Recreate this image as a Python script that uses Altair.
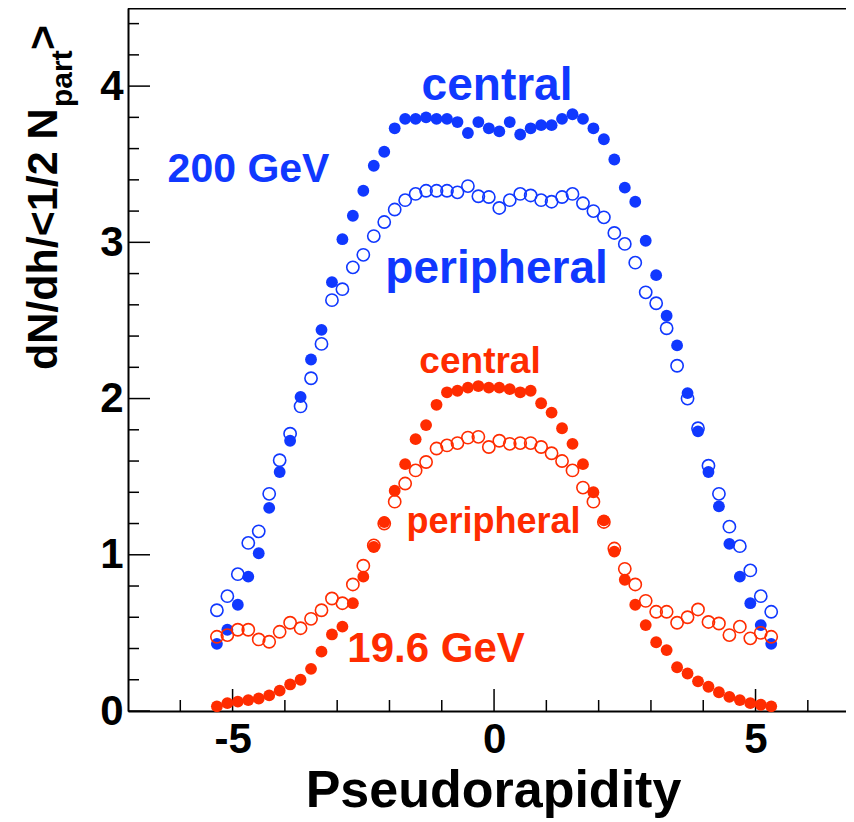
import altair as alt
import pandas as pd

# ---------------- data ----------------
eta = [-5.3, -5.1, -4.9, -4.7, -4.5, -4.3, -4.1, -3.9, -3.7, -3.5, -3.3, -3.1, -2.9, -2.7,
       -2.5, -2.3, -2.1, -1.9, -1.7, -1.5, -1.3, -1.1, -0.9, -0.7, -0.5, -0.3, -0.1,
       0.1, 0.3, 0.5, 0.7, 0.9, 1.1, 1.3, 1.5, 1.7, 1.9, 2.1, 2.3, 2.5, 2.7, 2.9, 3.1,
       3.3, 3.5, 3.7, 3.9, 4.1, 4.3, 4.5, 4.7, 4.9, 5.1, 5.3]

gev200_central = [0.43, 0.52, 0.68, 0.86, 1.01, 1.30, 1.53, 1.73, 2.01, 2.25, 2.44, 2.745, 3.02, 3.17,
                  3.33, 3.49, 3.58, 3.73, 3.79, 3.79, 3.80, 3.79, 3.79, 3.77, 3.70, 3.77, 3.73,
                  3.71, 3.77, 3.69, 3.73, 3.75, 3.75, 3.79, 3.82, 3.79, 3.73, 3.66, 3.53, 3.35, 3.26,
                  3.01, 2.79, 2.53, 2.34, 2.035, 1.79, 1.53, 1.31, 1.07, 0.86, 0.69, 0.55, 0.43]

gev200_peripheral = [0.645, 0.735, 0.876, 1.076, 1.15, 1.39, 1.605, 1.775, 1.95, 2.13, 2.35, 2.63, 2.70, 2.84,
                     2.92, 3.04, 3.13, 3.21, 3.27, 3.31, 3.33, 3.33, 3.33, 3.32, 3.36, 3.295, 3.29,
                     3.22, 3.27, 3.31, 3.30, 3.27, 3.26, 3.29, 3.31, 3.25, 3.20, 3.16, 3.06, 2.99, 2.87,
                     2.68, 2.61, 2.45, 2.21, 2.00, 1.81, 1.57, 1.39, 1.18, 1.055, 0.90, 0.735, 0.635]

gev19_central = [0.03, 0.05, 0.06, 0.07, 0.08, 0.10, 0.13, 0.17, 0.20, 0.27, 0.38, 0.49, 0.54, 0.69,
                 0.86, 1.05, 1.21, 1.41, 1.58, 1.74, 1.83, 1.96, 2.04, 2.05, 2.07, 2.08, 2.07,
                 2.07, 2.06, 2.04, 2.05, 1.97, 1.91, 1.81, 1.71, 1.58, 1.40, 1.22, 1.02, 0.84, 0.68,
                 0.55, 0.44, 0.39, 0.28, 0.24, 0.19, 0.155, 0.12, 0.09, 0.07, 0.05, 0.04, 0.03]

gev19_peripheral = [0.475, 0.486, 0.52, 0.52, 0.458, 0.443, 0.507, 0.565, 0.53, 0.59, 0.645, 0.72, 0.69, 0.81,
                    0.93, 1.06, 1.20, 1.34, 1.456, 1.54, 1.594, 1.68, 1.70, 1.715, 1.75, 1.755, 1.69,
                    1.73, 1.71, 1.715, 1.715, 1.69, 1.65, 1.60, 1.54, 1.43, 1.34, 1.21, 1.04, 0.91, 0.81,
                    0.705, 0.635, 0.635, 0.565, 0.60, 0.65, 0.57, 0.56, 0.486, 0.54, 0.465, 0.50, 0.475]

ann_text = ["central", "peripheral", "200 GeV", "central", "peripheral", "19.6 GeV"]
ann_eta = [0.057, 0.048, -4.695, -0.268, -0.01, -1.109]
ann_val = [3.91, 2.74, 3.387, 2.164, 1.14, 0.314]
ann_series = ["blue", "blue", "blue", "red", "red", "red"]
ann_size = [46, 46, 41, 37, 36, 42]

x_label_values = [-5, 0, 5]
x_major_ticks = [-5, 0, 5]
x_minor_ticks = [-6, -4, -3, -2, -1, 1, 2, 3, 4, 6]
y_label_values = [0, 1, 2, 3, 4]
y_major_ticks = [0, 1, 2, 3, 4]
y_minor_ticks = [0.2, 0.4, 0.6, 0.8, 1.2, 1.4, 1.6, 1.8, 2.2, 2.4, 2.6, 2.8,
                 3.2, 3.4, 3.6, 3.8, 4.2, 4.4]

BLUE = "#1038ff"
RED = "#ff2c00"
FONT = "Liberation Sans"

W, H = 718, 703

# ---------------- tables ----------------
def series(vals, color):
    return pd.DataFrame({"eta": eta, "val": vals, "color": [color] * len(eta)})

df_bc = series(gev200_central, BLUE)
df_bp = series(gev200_peripheral, BLUE)
df_rc = series(gev19_central, RED)
df_rp = series(gev19_peripheral, RED)

df_ann = pd.DataFrame({
    "text": ann_text, "eta": ann_eta, "val": ann_val,
    "color": [BLUE if s == "blue" else RED for s in ann_series],
    "size": ann_size,
})

xs = alt.Scale(domain=[-7, 6.73], nice=False, zero=False)
ys = alt.Scale(domain=[0, 4.5], nice=False, zero=False)

xaxis = alt.Axis(values=x_label_values, labelExpr="datum.value", grid=False, ticks=False,
                 tickSize=0, domain=True, domainColor="black", domainWidth=2,
                 labelFont=FONT, labelFontWeight="bold", labelFontSize=42,
                 labelColor="black", labelPadding=8, labelFlush=False, labelOverlap=False,
                 title="")
yaxis = alt.Axis(values=y_label_values, labelExpr="datum.value", grid=False, ticks=False,
                 tickSize=0, domain=True, domainColor="black", domainWidth=2,
                 labelFont=FONT, labelFontWeight="bold", labelFontSize=42,
                 labelColor="black", labelPadding=5, labelFlush=False, labelOverlap=False,
                 title="")


def X(field):
    return alt.X(field, scale=xs, axis=xaxis)


def Y(field):
    return alt.Y(field, scale=ys, axis=yaxis)


def pts(df, filled):
    if filled:
        m = alt.Chart(df).mark_point(filled=True, shape="circle", size=140, opacity=1)
    else:
        m = alt.Chart(df).mark_point(filled=False, shape="circle", size=150, opacity=1,
                                     strokeWidth=1.6)
    return m.encode(
        x=X("eta:Q"),
        y=Y("val:Q"),
        color=alt.Color("color:N", scale=None),
    )


ymaj = alt.Chart(pd.DataFrame({"val": y_major_ticks})).mark_rule(
    color="black", strokeWidth=1.5).encode(y=Y("val:Q"), x=alt.value(0), x2=alt.value(22))
ymin = alt.Chart(pd.DataFrame({"val": y_minor_ticks})).mark_rule(
    color="black", strokeWidth=1.5).encode(y=Y("val:Q"), x=alt.value(0), x2=alt.value(11))
xmaj = alt.Chart(pd.DataFrame({"eta": x_major_ticks})).mark_rule(
    color="black", strokeWidth=1.5).encode(x=X("eta:Q"), y=alt.value(H), y2=alt.value(H - 22))
xmin = alt.Chart(pd.DataFrame({"eta": x_minor_ticks})).mark_rule(
    color="black", strokeWidth=1.5).encode(x=X("eta:Q"), y=alt.value(H), y2=alt.value(H - 11))
top = alt.Chart(pd.DataFrame({"v": [0]})).mark_rule(color="black", strokeWidth=2).encode(
    x=alt.value(0), x2=alt.value(W), y=alt.value(0.5))

ann = alt.Chart(df_ann).mark_text(font=FONT, fontWeight="bold", align="center",
                                  baseline="alphabetic").encode(
    x=X("eta:Q"),
    y=Y("val:Q"),
    text="text:N",
    color=alt.Color("color:N", scale=None),
    size=alt.Size("size:Q", scale=None),
)

xtitle = alt.Chart(pd.DataFrame({"t": ["Pseudorapidity"]})).mark_text(
    font=FONT, fontWeight="bold", fontSize=52, color="black", align="center",
    baseline="alphabetic").encode(text="t:N", x=alt.value(365.5), y=alt.value(799))

yt_main = alt.Chart(pd.DataFrame({"t": ["dN/dh/<1/2 N"]})).mark_text(
    font=FONT, fontWeight="bold", fontSize=43, color="black", align="left",
    baseline="alphabetic", angle=270).encode(text="t:N", x=alt.value(-71), y=alt.value(362))
yt_sub = alt.Chart(pd.DataFrame({"t": ["part"]})).mark_text(
    font=FONT, fontWeight="bold", fontSize=30, color="black", align="left",
    baseline="alphabetic", angle=270).encode(text="t:N", x=alt.value(-56), y=alt.value(99))
yt_gt = alt.Chart(pd.DataFrame({"t": [">"]})).mark_text(
    font=FONT, fontWeight="bold", fontSize=43, color="black", align="left",
    baseline="alphabetic", angle=270).encode(text="t:N", x=alt.value(-71), y=alt.value(42))

chart = alt.layer(
    ymaj, ymin, xmaj, xmin, top,
    pts(df_bc, True), pts(df_bp, False), pts(df_rc, True), pts(df_rp, False),
    ann, xtitle, yt_main, yt_sub, yt_gt,
).properties(
    width=W, height=H,
    padding={"left": 120, "top": 0, "right": 0, "bottom": 111},
    autosize=alt.AutoSizeParams(type="none"),
).configure_view(stroke="transparent").configure(background="white")

chart.save("out.html", embed_options={"renderer": "svg", "actions": False})
